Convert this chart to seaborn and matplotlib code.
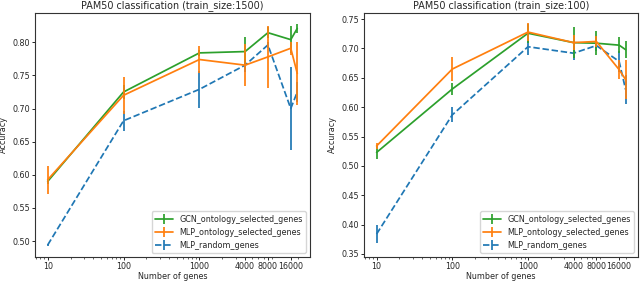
import matplotlib
matplotlib.use("Agg")
import matplotlib.pyplot as plt
from matplotlib.lines import Line2D
import numpy as np
import pandas as pd
import seaborn as sns

genes = [10, 100, 1000, 4000, 8000, 16000, 19500]
xticks = [10, 100, 1000, 4000, 8000, 16000]

# train_size 1500
gcn_1500 = [0.590, 0.725, 0.784, 0.786, 0.8145, 0.804, 0.821]
gcn_1500_err = [0.004, 0.010, 0.005, 0.022, 0.008, 0.020, 0.007]
mlp_1500 = [0.5925, 0.720, 0.774, 0.7655, 0.778, 0.791, 0.753]
mlp_1500_err = [0.021, 0.028, 0.021, 0.032, 0.047, 0.010, 0.047]
rnd_1500 = [0.494, 0.6816, 0.729, 0.7655, 0.796, 0.700, 0.725]
rnd_1500_err = [0.002, 0.015, 0.028, 0.010, 0.004, 0.062, 0.015]

# train_size 100
gcn_100 = [0.523, 0.631, 0.726, 0.710, 0.709, 0.7057, 0.698]
gcn_100_err = [0.012, 0.011, 0.016, 0.026, 0.020, 0.014, 0.015]
mlp_100 = [0.534, 0.665, 0.728, 0.710, 0.712, 0.664, 0.647]
mlp_100_err = [0.005, 0.021, 0.015, 0.013, 0.010, 0.016, 0.033]
rnd_100 = [0.384, 0.587, 0.703, 0.692, 0.705, 0.678, 0.630]
rnd_100_err = [0.016, 0.013, 0.014, 0.012, 0.010, 0.018, 0.025]

names = ["GCN_ontology_selected_genes", "MLP_ontology_selected_genes", "MLP_random_genes"]
titles = ["PAM50 classification (train_size:1500)", "PAM50 classification (train_size:100)"]

sns.set_style("ticks")
plt.rcParams["font.family"] = ["DejaVu Sans"]
plt.rcParams["font.size"] = 5.8
FS = 5.8

pal = sns.color_palette("tab10")
colors = {names[0]: pal[2], names[1]: pal[1], names[2]: pal[0]}
styles = {names[0]: "-", names[1]: "-", names[2]: "--"}
LW = 1.25

fig = plt.figure(figsize=(6.4, 2.82), dpi=100)
ax1 = fig.add_axes([0.055, 0.089, 0.429, 0.866])
ax2 = fig.add_axes([0.569, 0.089, 0.428, 0.866])

panels = [
    (ax1, titles[0], {names[0]: (gcn_1500, gcn_1500_err), names[1]: (mlp_1500, mlp_1500_err), names[2]: (rnd_1500, rnd_1500_err)},
     [0.50, 0.55, 0.60, 0.65, 0.70, 0.75, 0.80]),
    (ax2, titles[1], {names[0]: (gcn_100, gcn_100_err), names[1]: (mlp_100, mlp_100_err), names[2]: (rnd_100, rnd_100_err)},
     [0.35, 0.40, 0.45, 0.50, 0.55, 0.60, 0.65, 0.70, 0.75]),
]

draw_order = [names[2], names[0], names[1]]
for ax, title, series, yt in panels:
    rows = []
    for n in names:
        y, e = series[n]
        for g, v, ev in zip(genes, y, e):
            rows.append({"genes": g, "acc": v, "err": ev, "model": n})
    df = pd.DataFrame(rows)
    for n in draw_order:
        sub = df[df["model"] == n]
        sns.lineplot(data=sub, x="genes", y="acc", ax=ax, color=colors[n],
                     linestyle=styles[n], linewidth=LW, legend=False)
        ax.errorbar(sub["genes"], sub["acc"], yerr=sub["err"], fmt="none",
                    ecolor=colors[n], elinewidth=LW, capsize=0)
    ax.set_xscale("log")
    ax.set_xticks(xticks)
    ax.set_xticklabels([str(t) for t in xticks])
    ax.set_yticks(yt)
    ax.set_yticklabels([f"{v:.2f}" for v in yt])
    ax.set_title(title, fontsize=6.9, pad=3)
    ax.set_xlabel("Number of genes", fontsize=FS, labelpad=1)
    ax.set_ylabel("Accuracy", fontsize=FS, labelpad=3)
    ax.tick_params(labelsize=FS, length=2.2, width=0.7, pad=1.5)
    ax.tick_params(which="minor", length=1.3, width=0.5)
    for s in ax.spines.values():
        s.set_visible(True)
        s.set_linewidth(0.8)
        s.set_color("#333333")
    handles = []
    for n in names:
        h1 = Line2D([0], [0], color=colors[n], linestyle=styles[n], linewidth=LW)
        h2 = Line2D([0], [0], color=colors[n], marker="|", markersize=7, linestyle="none", markeredgewidth=LW)
        handles.append((h1, h2))
    ax.legend(handles, names, loc="lower right", fontsize=FS, handlelength=2.2)

ax1.set_ylim(0.476, 0.8447)
ax2.set_ylim(0.345, 0.761)

fig.savefig("out.png", dpi=100)
